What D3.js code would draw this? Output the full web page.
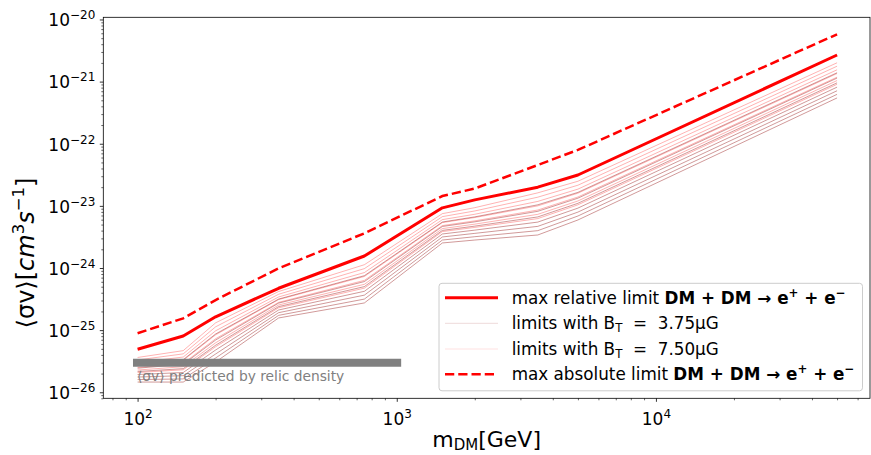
<!DOCTYPE html>
<html><head><meta charset="utf-8">
<script src="https://cdn.jsdelivr.net/npm/d3@7"></script>
<style>
body{margin:0;background:#fff;}
svg{display:block;font-family:"DejaVu Sans",sans-serif;}
text{white-space:pre;}
</style></head><body>
<svg id="c" width="871" height="455"></svg>
<script>
// ---- data ----
const massGeV = [100, 150, 200, 350, 750, 1500, 2000, 3500, 5000, 50000];
const maxRelativeLimit = [4.92e-26, 8.05e-26, 1.64e-25, 4.72e-25, 1.56e-24, 9.3e-24, 1.25e-23, 2.0e-23, 3.14e-23, 2.68e-21];
const maxAbsoluteLimit = [8.9e-26, 1.55e-25, 3.05e-25, 9.9e-25, 3.62e-24, 1.44e-23, 1.9e-23, 4.55e-23, 7.94e-23, 5.78e-21];
const limitsB750 = [
  [3.63e-26, 4.68e-26, 1.31e-25, 4.18e-25, 1.13e-24, 7.50e-24, 9.35e-24, 1.62e-23, 2.49e-23, 2.01e-21],
  [3.31e-26, 4.15e-26, 1.13e-25, 3.78e-25, 9.77e-25, 6.71e-24, 8.28e-24, 1.38e-23, 2.15e-23, 1.77e-21],
  [3.01e-26, 3.69e-26, 9.75e-26, 3.42e-25, 8.45e-25, 6.01e-24, 7.33e-24, 1.18e-23, 1.86e-23, 1.55e-21],
  [2.75e-26, 3.27e-26, 8.41e-26, 3.10e-25, 7.31e-25, 5.38e-24, 6.49e-24, 1.00e-23, 1.60e-23, 1.35e-21],
  [2.51e-26, 2.91e-26, 7.26e-26, 2.80e-25, 6.32e-25, 4.82e-24, 5.74e-24, 8.57e-24, 1.39e-23, 1.18e-21],
  [2.28e-26, 2.58e-26, 6.25e-26, 2.54e-25, 5.47e-25, 4.31e-24, 5.08e-24, 7.31e-24, 1.20e-23, 1.04e-21],
  [2.08e-26, 2.30e-26, 5.40e-26, 2.29e-25, 4.74e-25, 3.86e-24, 4.50e-24, 6.24e-24, 1.04e-23, 9.06e-22]
];
const limitsB375 = [
  [2.80e-26, 3.35e-26, 8.67e-26, 3.16e-25, 7.53e-25, 5.50e-24, 6.65e-24, 1.04e-23, 1.65e-23, 1.39e-21],
  [2.44e-26, 2.81e-26, 6.93e-26, 2.72e-25, 6.05e-25, 4.66e-24, 5.53e-24, 8.17e-24, 1.33e-23, 1.14e-21],
  [2.16e-26, 2.40e-26, 5.71e-26, 2.39e-25, 5.02e-25, 4.03e-24, 4.72e-24, 6.64e-24, 1.10e-23, 9.55e-22],
  [1.93e-26, 2.08e-26, 4.79e-26, 2.11e-25, 4.22e-25, 3.53e-24, 4.07e-24, 5.48e-24, 9.20e-24, 8.15e-22],
  [1.76e-26, 1.85e-26, 4.13e-26, 1.91e-25, 3.66e-25, 3.16e-24, 3.61e-24, 4.68e-24, 7.94e-24, 7.13e-22],
  [1.60e-26, 1.64e-26, 3.56e-26, 1.73e-25, 3.16e-25, 2.82e-24, 3.19e-24, 3.99e-24, 6.87e-24, 6.24e-22],
  [1.46e-26, 1.46e-26, 3.07e-26, 1.57e-25, 2.74e-25, 2.53e-24, 2.82e-24, 3.40e-24, 5.93e-24, 5.46e-22]
];
const relicMassRange = [96, 1040];
const relicValue = 3.0e-26;
const xTickValues = [1e2, 1e3, 1e4];
const xTickExponents = ["2", "3", "4"];
const yTickValues = [1e-26, 1e-25, 1e-24, 1e-23, 1e-22, 1e-21, 1e-20];
const yTickExponents = ["\u221226", "\u221225", "\u221224", "\u221223", "\u221222", "\u221221", "\u221220"];
const relicLabel = "\u27E8\u03C3v\u27E9 predicted by relic density";

// ---- layout ----
const L = 103.3, R = 870, T = 17.3, B = 398.3;
const svg = d3.select("#c");
const x = d3.scaleLog().domain([Math.pow(10, 1.8677), Math.pow(10, 4.826)]).range([L, R]);
const y = d3.scaleLog().domain([Math.pow(10, -26.097), Math.pow(10, -19.965)]).range([B, T]);

const line = d3.line().x((d, i) => x(massGeV[i])).y(d => y(d));

svg.append("clipPath").attr("id", "pc").append("rect")
  .attr("x", L).attr("y", T).attr("width", R - L).attr("height", B - T);
const plot = svg.append("g").attr("clip-path", "url(#pc)");

limitsB750.forEach(s => plot.append("path").attr("d", line(s)).attr("fill", "none")
  .attr("stroke", "#ff0000").attr("stroke-opacity", 0.3).attr("stroke-width", 1));
limitsB375.forEach(s => plot.append("path").attr("d", line(s)).attr("fill", "none")
  .attr("stroke", "#8b0000").attr("stroke-opacity", 0.4).attr("stroke-width", 1));

plot.append("path").attr("d", line(maxRelativeLimit)).attr("fill", "none")
  .attr("stroke", "#ff0000").attr("stroke-width", 3).attr("stroke-linejoin", "round");
plot.append("path").attr("d", line(maxAbsoluteLimit)).attr("fill", "none")
  .attr("stroke", "#ff0000").attr("stroke-width", 2.5).attr("stroke-dasharray", "9.25,4");

plot.append("line").attr("x1", x(relicMassRange[0])).attr("x2", x(relicMassRange[1]))
  .attr("y1", y(relicValue)).attr("y2", y(relicValue))
  .attr("stroke", "#808080").attr("stroke-width", 8);
plot.append("text").attr("x", x(relicMassRange[0]) + 4).attr("y", y(relicValue) + 18)
  .attr("font-size", 13.8).attr("fill", "#808080").text(relicLabel);

// ---- axes ----
function minorTicks(lo, hi) {
  const out = [];
  for (let k = Math.floor(Math.log10(lo)) - 1; k <= Math.ceil(Math.log10(hi)); k++)
    for (let m = 2; m <= 9; m++) { const v = m * Math.pow(10, k); if (v > lo && v < hi) out.push(v); }
  return out;
}
const xd = x.domain(), yd = y.domain();
const gxMinor = svg.append("g").attr("transform", `translate(0,${B})`)
  .call(d3.axisBottom(x).tickValues(minorTicks(xd[0], xd[1])).tickSize(2).tickFormat(""));
const gyMinor = svg.append("g").attr("transform", `translate(${L},0)`)
  .call(d3.axisLeft(y).tickValues(minorTicks(yd[0], yd[1])).tickSize(2).tickFormat(""));
[gxMinor, gyMinor].forEach(g => { g.select(".domain").remove(); g.selectAll("line").attr("stroke-width", 0.6); });

const gx = svg.append("g").attr("transform", `translate(0,${B})`)
  .call(d3.axisBottom(x).tickValues(xTickValues).tickSize(3.5).tickFormat(""));
gx.select(".domain").remove();
gx.selectAll("line").attr("stroke-width", 0.8);
gx.selectAll(".tick").each(function(d, i) {
  const t = d3.select(this).append("text").attr("y", 26.5).attr("fill", "#000")
    .attr("text-anchor", "middle").attr("font-size", 17).attr("font-family", "DejaVu Sans");
  t.append("tspan").text("10");
  t.append("tspan").attr("dy", -7).attr("font-size", 12).text(xTickExponents[i]);
});

const gy = svg.append("g").attr("transform", `translate(${L},0)`)
  .call(d3.axisLeft(y).tickValues(yTickValues).tickSize(3.5).tickFormat(""));
gy.select(".domain").remove();
gy.selectAll("line").attr("stroke-width", 0.8);
gy.selectAll(".tick").each(function(d, i) {
  const t = d3.select(this).append("text").attr("x", -8).attr("y", 6.3).attr("fill", "#000")
    .attr("text-anchor", "end").attr("font-size", 17).attr("font-family", "DejaVu Sans");
  t.append("tspan").text("10");
  t.append("tspan").attr("dy", -7).attr("font-size", 12).text(yTickExponents[i]);
});

svg.append("rect").attr("x", L).attr("y", T).attr("width", R - L).attr("height", B - T)
  .attr("fill", "none").attr("stroke", "#000").attr("stroke-width", 0.8);

// axis labels
const xl = svg.append("text").attr("x", (L + R) / 2).attr("y", 446.5).attr("text-anchor", "middle")
  .attr("font-size", 22);
xl.append("tspan").text("m");
xl.append("tspan").attr("dy", 3.5).attr("font-size", 15).text("DM");
xl.append("tspan").attr("dy", -3.5).text("[GeV]");

const yl = svg.append("text").attr("transform", "translate(34,253) rotate(-90)")
  .attr("text-anchor", "middle").attr("font-size", 24);
yl.append("tspan").text("\u27E8\u03C3v\u27E9[");
yl.append("tspan").attr("font-style", "italic").text("cm");
yl.append("tspan").attr("dy", -10).attr("font-size", 16.5).text("3");
yl.append("tspan").attr("dy", 10).attr("font-style", "italic").text("s");
yl.append("tspan").attr("dy", -10).attr("font-size", 16.5).text("\u22121");
yl.append("tspan").attr("dy", 10).text("]");

// ---- legend ----
const lg = svg.append("g");
lg.append("rect").attr("x", 439).attr("y", 283.3).attr("width", 423.5).attr("height", 107.5)
  .attr("rx", 3).attr("fill", "#fff").attr("fill-opacity", 0.8).attr("stroke", "#cccccc").attr("stroke-width", 1);
const rows = [297.7, 323.3, 349, 374.3];
const fs = 16.8;
function mathLabel(t, prefix) {
  t.append("tspan").text(prefix);
  t.append("tspan").attr("font-weight", "bold").text("DM + DM \u2192 e");
  t.append("tspan").attr("dy", -7).attr("font-size", 11.8).attr("font-weight", "bold").text("+");
  t.append("tspan").attr("dy", 7).attr("font-weight", "bold").text(" + e");
  t.append("tspan").attr("dy", -7).attr("font-size", 11.8).attr("font-weight", "bold").text("\u2212");
}
// row 1
lg.append("line").attr("x1", 445).attr("x2", 498).attr("y1", rows[0]).attr("y2", rows[0])
  .attr("stroke", "#ff0000").attr("stroke-width", 3);
mathLabel(lg.append("text").attr("x", 511.7).attr("y", rows[0] + 6).attr("font-size", fs), "max relative limit ");
// row 2
lg.append("line").attr("x1", 445).attr("x2", 498).attr("y1", rows[1]).attr("y2", rows[1])
  .attr("stroke", "#8b0000").attr("stroke-opacity", 0.15).attr("stroke-width", 1);
let t2 = lg.append("text").attr("x", 511.7).attr("y", rows[1] + 6).attr("font-size", fs);
t2.append("tspan").text("limits with B");
t2.append("tspan").attr("dy", 3).attr("font-size", 11.8).text("T");
t2.append("tspan").attr("dy", -3).text("  =  3.75\u03BCG");
// row 3
lg.append("line").attr("x1", 445).attr("x2", 498).attr("y1", rows[2]).attr("y2", rows[2])
  .attr("stroke", "#ff0000").attr("stroke-opacity", 0.12).attr("stroke-width", 1);
let t3 = lg.append("text").attr("x", 511.7).attr("y", rows[2] + 6).attr("font-size", fs);
t3.append("tspan").text("limits with B");
t3.append("tspan").attr("dy", 3).attr("font-size", 11.8).text("T");
t3.append("tspan").attr("dy", -3).text("  =  7.50\u03BCG");
// row 4
lg.append("line").attr("x1", 445).attr("x2", 498).attr("y1", rows[3]).attr("y2", rows[3])
  .attr("stroke", "#ff0000").attr("stroke-width", 2.5).attr("stroke-dasharray", "9.25,4");
mathLabel(lg.append("text").attr("x", 511.7).attr("y", rows[3] + 6).attr("font-size", fs), "max absolute limit ");
</script>
</body></html>
